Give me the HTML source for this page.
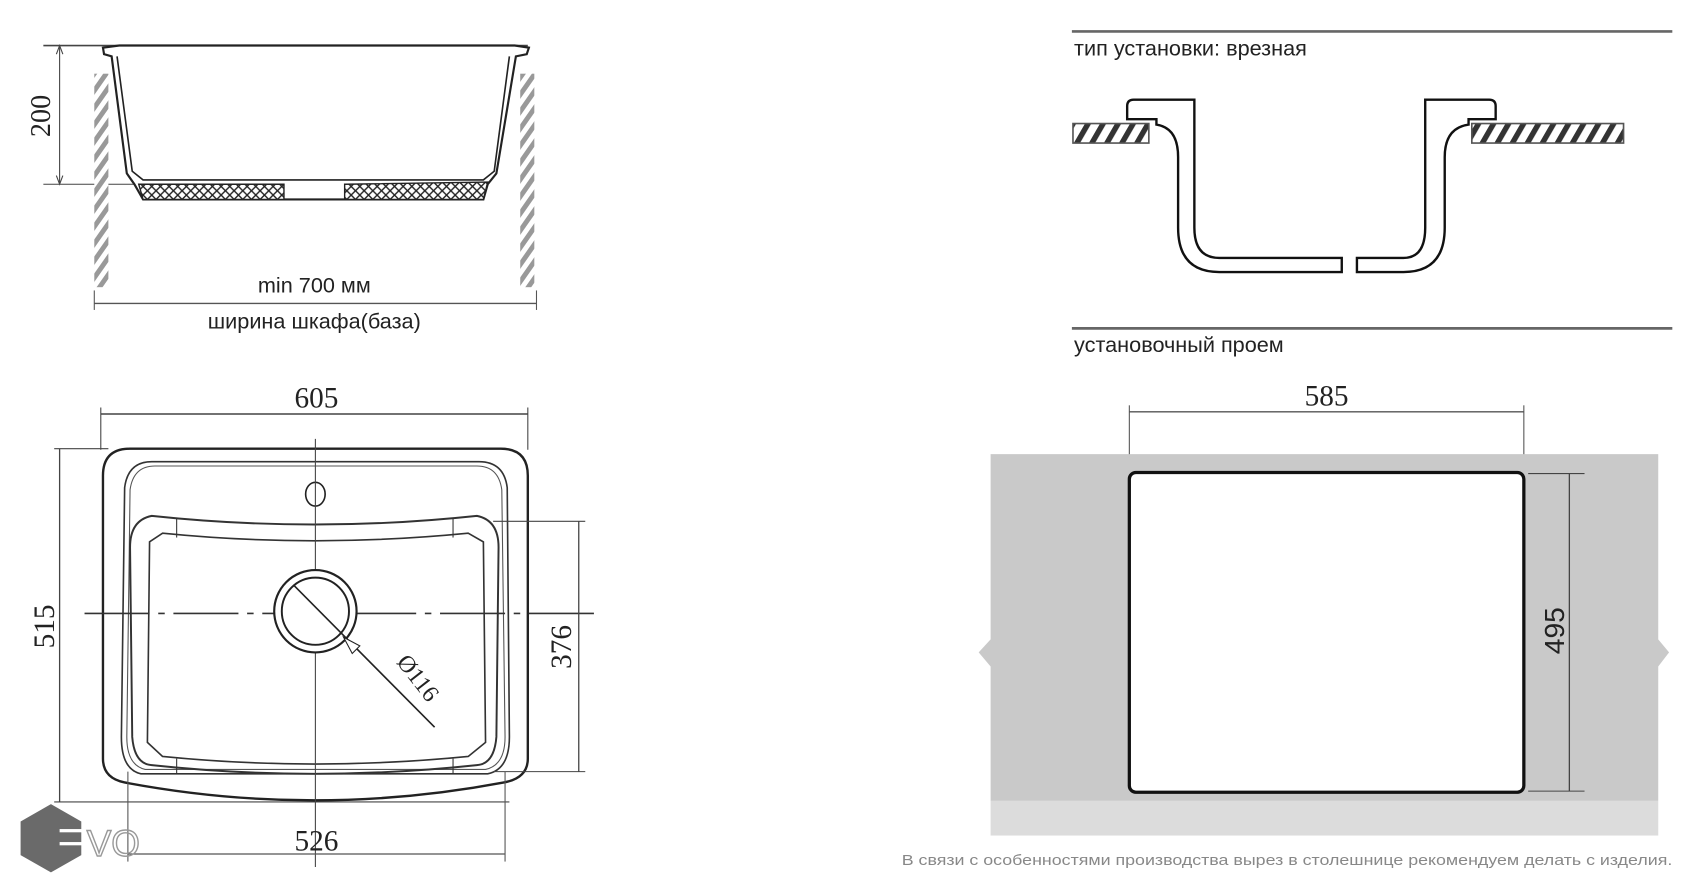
<!DOCTYPE html>
<html><head><meta charset="utf-8"><style>
html,body{margin:0;padding:0;background:#fff;width:1694px;height:893px;overflow:hidden}
svg{display:block}
.s{font-family:"Liberation Sans",sans-serif;fill:#222}
.r{font-family:"Liberation Serif",serif;fill:#222}
</style></head><body>
<svg width="1694" height="893" viewBox="0 0 1563 824" preserveAspectRatio="none" xmlns="http://www.w3.org/2000/svg">
<defs>
<pattern id="h" width="9" height="9" patternUnits="userSpaceOnUse" patternTransform="rotate(35)">
<rect width="9" height="9" fill="#fff"/><rect width="4.5" height="9" fill="#999"/></pattern>
<pattern id="h2" width="12" height="12" patternUnits="userSpaceOnUse" patternTransform="rotate(30)">
<rect width="12" height="12" fill="#fff"/><rect width="5" height="12" fill="#333"/></pattern>
<pattern id="x" width="8" height="8" patternUnits="userSpaceOnUse">
<rect width="8" height="8" fill="#fff"/><path d="M0 0L8 8M8 0L0 8" stroke="#222" stroke-width="1.3"/></pattern>
</defs>

<!-- top-left side section -->
<line x1="40" y1="42" x2="487" y2="42" stroke="#444" stroke-width="1.5"/>
<line x1="40" y1="170" x2="130" y2="170" stroke="#444" stroke-width="1"/>
<line x1="55" y1="42" x2="55" y2="170" stroke="#444" stroke-width="1"/>
<path d="M52 50 L55 42 L58 50 M52 162 L55 170 L58 162" fill="none" stroke="#444"/>
<text class="r" x="0" y="0" font-size="26" transform="translate(46,107) rotate(-90)" text-anchor="middle">200</text>
<rect x="87" y="68" width="13" height="197" fill="url(#h)"/>
<rect x="480" y="68" width="13" height="197" fill="url(#h)"/>
<path d="M95 44 L110 42 L475 42 L488 44 L486 50 L476 52 L458 160 L450 170 L446 184 L132 184 L124 170 L117 160 L103 52 L96 50 Z" fill="#fff" stroke="#222" stroke-width="2"/>
<path d="M108 52 L122 158 L132 166 L446 166 L456 158 L470 52" fill="none" stroke="#222" stroke-width="1.5"/>
<path d="M128 170 L262 170 L262 184 L132 184 Z" fill="url(#x)" stroke="#222" stroke-width="1.3"/>
<path d="M318 170 L450 168 L446 184 L318 184 Z" fill="url(#x)" stroke="#222" stroke-width="1.3"/>
<line x1="87" y1="280" x2="495" y2="280" stroke="#555" stroke-width="1.2"/>
<line x1="87" y1="268" x2="87" y2="286" stroke="#555"/><line x1="495" y1="268" x2="495" y2="286" stroke="#555"/>
<text class="s" x="290" y="270" font-size="20" text-anchor="middle">min 700 мм</text>
<text class="s" x="290" y="303" font-size="20" text-anchor="middle">ширина шкафа(база)</text>

<!-- top view -->
<text class="r" x="292" y="376" font-size="27" text-anchor="middle">605</text>
<line x1="93" y1="382" x2="487" y2="382" stroke="#444" stroke-width="1.3"/>
<line x1="93" y1="376" x2="93" y2="415" stroke="#444"/><line x1="487" y1="376" x2="487" y2="415" stroke="#444"/>
<line x1="50" y1="414" x2="100" y2="414" stroke="#444"/>
<line x1="55" y1="414" x2="55" y2="740" stroke="#444" stroke-width="1.2"/>
<line x1="50" y1="740" x2="470" y2="740" stroke="#444"/>
<text class="r" x="0" y="0" font-size="27" transform="translate(50,578) rotate(-90)" text-anchor="middle">515</text>
<path d="M120 414 L462 414 Q487 414 487 439 L487 700 Q487 718 465 722 Q290 755 115 722 Q95 718 95 700 L95 439 Q95 414 120 414 Z" fill="#fff" stroke="#222" stroke-width="2.2"/>
<path d="M140 426 L442 426 Q465 426 468 450 L470 680 Q470 710 450 714 L130 714 Q112 710 112 680 L115 450 Q118 426 140 426 Z" fill="none" stroke="#333" stroke-width="1.5"/>
<path d="M143 430 L440 430 Q460 430 463 452 L466 680 Q466 706 448 710 L134 710 Q117 706 117 680 L120 452 Q123 430 143 430 Z" fill="none" stroke="#555" stroke-width="1"/>
<ellipse cx="291" cy="456" rx="9" ry="11" fill="none" stroke="#222" stroke-width="1.5"/>
<path d="M140 476 Q290 492 440 476 Q460 480 460 505 L458 680 Q456 705 440 706 Q290 722 140 706 Q124 705 122 680 L120 505 Q120 480 140 476 Z" fill="none" stroke="#333" stroke-width="1.8"/>
<path d="M150 492 Q290 506 432 492 L446 500 L448 685 L432 698 Q290 712 150 698 L136 685 L138 500 Z" fill="none" stroke="#333" stroke-width="1.5"/>
<line x1="163" y1="478" x2="163" y2="496" stroke="#333"/><line x1="418" y1="478" x2="418" y2="496" stroke="#333"/>
<line x1="163" y1="700" x2="163" y2="714" stroke="#333"/><line x1="418" y1="700" x2="418" y2="714" stroke="#333"/>
<line x1="291" y1="405" x2="291" y2="800" stroke="#444" stroke-width="1"/>
<line x1="78" y1="566" x2="552" y2="566" stroke="#333" stroke-width="1.5" stroke-dasharray="60,8,6,8"/>
<circle cx="291" cy="564" r="38" fill="#fff" stroke="#222" stroke-width="2"/>
<circle cx="291" cy="564" r="31" fill="none" stroke="#222" stroke-width="1.8"/>
<line x1="271" y1="540" x2="401" y2="671" stroke="#222" stroke-width="1.5"/>
<path d="M317 588 L332 596 L325 603 Z" fill="#fff" stroke="#222"/>
<text class="r" x="0" y="0" font-size="22" transform="translate(380,630) rotate(52)" text-anchor="middle">Ø116</text>
<line x1="455" y1="481" x2="540" y2="481" stroke="#444"/>
<line x1="455" y1="712" x2="540" y2="712" stroke="#444"/>
<line x1="534" y1="481" x2="534" y2="712" stroke="#444" stroke-width="1.2"/>
<text class="r" x="0" y="0" font-size="27" transform="translate(527,597) rotate(-90)" text-anchor="middle">376</text>
<line x1="118" y1="712" x2="118" y2="795" stroke="#555"/><line x1="466" y1="712" x2="466" y2="795" stroke="#555"/>
<line x1="118" y1="788" x2="466" y2="788" stroke="#555" stroke-width="1.2"/>
<text class="r" x="292" y="785" font-size="27" text-anchor="middle" fill="#444">526</text>
<!-- EVO logo -->
<polygon points="47,742 75,758 75,789 47,805 19,789 19,758" fill="#6a6a6a"/>
<rect x="55" y="765" width="25" height="3" fill="#fff"/><rect x="55" y="777" width="25" height="3" fill="#fff"/>
<text x="80" y="790" font-family="Liberation Sans,sans-serif" font-size="34" fill="none" stroke="#999" stroke-width="1.3">VO</text>

<!-- right: install type -->
<line x1="989" y1="29" x2="1543" y2="29" stroke="#666" stroke-width="2.5"/>
<text class="s" x="991" y="51" font-size="20">тип установки: врезная</text>
<rect x="990" y="114" width="70" height="18" fill="url(#h2)" stroke="#555" stroke-width="1.5"/>
<rect x="1358" y="114" width="140" height="18" fill="url(#h2)" stroke="#555" stroke-width="1.5"/>
<path d="M1238 251 L1125 251 Q1087 251 1087 210 L1087 145 Q1087 118 1067 115 L1067 110 L1040 110 L1040 98 Q1040 92 1046 92 L1102 92 L1102 210 Q1102 238 1125 238 L1238 238 Z" fill="#fff" stroke="#111" stroke-width="2.2"/>
<path d="M1252 251 L1295 251 Q1333 251 1333 210 L1333 145 Q1333 118 1355 115 L1355 110 L1380 110 L1380 98 Q1380 92 1374 92 L1315 92 L1315 210 Q1315 238 1295 238 L1252 238 Z" fill="#fff" stroke="#111" stroke-width="2.2"/>

<!-- cutout -->
<line x1="989" y1="303" x2="1543" y2="303" stroke="#666" stroke-width="2.5"/>
<text class="s" x="991" y="325" font-size="20">установочный проем</text>
<text class="r" x="1224" y="374" font-size="27" text-anchor="middle">585</text>
<line x1="1042" y1="380" x2="1406" y2="380" stroke="#555" stroke-width="1.2"/>
<line x1="1042" y1="374" x2="1042" y2="435" stroke="#555"/><line x1="1406" y1="374" x2="1406" y2="435" stroke="#555"/>
<polygon points="914,419 1530,419 1530,590 1540,602 1530,615 1530,739 914,739 914,615 903,602 914,590" fill="#c9c9c9"/>
<rect x="914" y="739" width="616" height="32" fill="#dcdcdc"/>
<rect x="1042" y="436" width="364" height="295" rx="6" fill="#fff" stroke="#111" stroke-width="3"/>
<line x1="1410" y1="437" x2="1462" y2="437" stroke="#444"/><line x1="1410" y1="730" x2="1462" y2="730" stroke="#444"/>
<line x1="1448" y1="437" x2="1448" y2="730" stroke="#444" stroke-width="1.2"/>
<text class="s" x="0" y="0" font-size="26" transform="translate(1443,582) rotate(-90)" text-anchor="middle">495</text>
<text class="s" x="832" y="798" font-size="14" fill="#888" style="fill:#888" textLength="711" lengthAdjust="spacingAndGlyphs">В связи с особенностями производства вырез в столешнице рекомендуем делать с изделия.</text>
</svg>
</body></html>
